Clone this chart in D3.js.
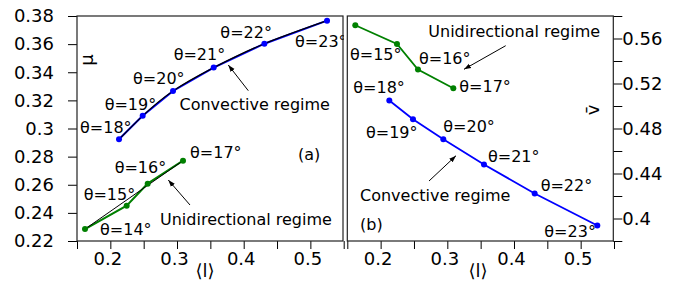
<!DOCTYPE html>
<html>
<head>
<meta charset="utf-8">
<script src="https://cdn.jsdelivr.net/npm/d3@7"></script>
<style>
  body { margin: 0; background: #fff; }
  svg text { font-family: "DejaVu Sans", sans-serif; fill: #000; }
</style>
</head>
<body>
<svg id="chart" width="683" height="281"></svg>
<script>
// data
var thetaConv = [18, 19, 20, 21, 22, 23];
var lConv = [0.213, 0.2485, 0.294, 0.355, 0.431, 0.525];
var muConv = [0.2923, 0.309, 0.3267, 0.3433, 0.3603, 0.3767];
var vConv = [0.5049, 0.4883, 0.4705, 0.448, 0.4222, 0.3938];

var thetaUni = [14, 15, 16, 17];
var lUni = [0.162, 0.2245, 0.256, 0.309];
var muUni = [0.2285, 0.2451, 0.2608, 0.2771];
var vUni = [0.5718, 0.5552, 0.5324, 0.5158];

var xMajor = [0.2, 0.3, 0.4, 0.5];
var xMinor = [0.15, 0.25, 0.35, 0.45, 0.55];
var muTicks = [0.22, 0.24, 0.26, 0.28, 0.3, 0.32, 0.34, 0.36, 0.38];
var vMajor = [0.4, 0.44, 0.48, 0.52, 0.56];
var vMinor = [0.38, 0.42, 0.46, 0.5, 0.54, 0.58];

var svg = d3.select("#chart");
var yTop = 16, yBot = 241;

var xa = d3.scaleLinear().domain([0.15, 0.55]).range([77, 343.7]);
var xb = d3.scaleLinear().domain([0.15, 0.55]).range([347.3, 614]);
var ymu = d3.scaleLinear().domain([0.22, 0.38]).range([yBot, yTop]);
var yv = d3.scaleLinear().domain([0.38, 0.58]).range([yBot, yTop]);

var blue = "#0000ff", green = "#008000";

svg.append("defs").append("marker")
  .attr("id", "arr").attr("viewBox", "0 0 10 10")
  .attr("refX", 10).attr("refY", 5)
  .attr("markerWidth", 7).attr("markerHeight", 7)
  .attr("markerUnits", "userSpaceOnUse")
  .attr("orient", "auto")
  .append("path").attr("d", "M0,1.5 L10,5 L0,8.5 Z").attr("fill", "#000");

svg.select("defs").append("clipPath").attr("id", "clipA")
  .append("rect").attr("x", 77).attr("y", yTop).attr("width", 344 - 77).attr("height", yBot - yTop);

function axes(x) {
  var g = svg.append("g").attr("transform", "translate(0," + yBot + ")");
  g.call(d3.axisBottom(x).tickValues(xMajor).tickSize(8).tickPadding(3).tickFormat(d => d))
    .call(a => a.select(".domain").remove());
  g.selectAll("text").attr("font-size", 18).attr("dx", -3).style("font-family", null);
  g.append("g").call(d3.axisBottom(x).tickValues(xMinor).tickSize(8).tickFormat(""))
    .call(a => a.select(".domain").remove());
  g.selectAll("line").attr("stroke", "#000");
}

function frame(x0, x1) {
  svg.append("rect").attr("x", x0).attr("y", yTop)
    .attr("width", x1 - x0).attr("height", yBot - yTop)
    .attr("fill", "none").attr("stroke", "#222").attr("stroke-width", 1.2);
}

// ---------- panel (a)
axes(xa);
var ga = svg.append("g").attr("transform", "translate(77,0)");
ga.call(d3.axisLeft(ymu).tickValues(muTicks).tickSize(9).tickPadding(14).tickFormat(d => d))
  .call(a => a.select(".domain").remove());
ga.selectAll("text").attr("font-size", 18).style("font-family", null);
ga.selectAll("line").attr("stroke", "#000");

var lineA = d3.line().x(d => xa(d[0])).y(d => ymu(d[1]));
var conv = lConv.map((v, i) => [v, muConv[i]]);
var uni = lUni.map((v, i) => [v, muUni[i]]);

svg.append("path").attr("d", lineA(conv)).attr("fill", "none").attr("stroke", blue).attr("stroke-width", 2);
svg.append("path").attr("d", lineA.curve(d3.curveNatural)(conv)).attr("fill", "none").attr("stroke", "#000").attr("stroke-width", 1.2);
lineA.curve(d3.curveLinear);
svg.append("path").attr("d", lineA(uni)).attr("fill", "none").attr("stroke", green).attr("stroke-width", 2);
svg.append("path").attr("d", lineA([uni[0], uni[uni.length - 1]])).attr("fill", "none").attr("stroke", "#000").attr("stroke-width", 1);

svg.selectAll(".da").data(conv).enter().append("circle")
  .attr("cx", d => xa(d[0])).attr("cy", d => ymu(d[1])).attr("r", 3).attr("fill", blue);
svg.selectAll(".dau").data(uni).enter().append("circle")
  .attr("cx", d => xa(d[0])).attr("cy", d => ymu(d[1])).attr("r", 3).attr("fill", green);

// label offsets (px) from each point
var offConvA = [[-39, -6], [-38, -6], [-40, -7], [-40, -8], [-44, -6], [-32, 26]];
var offUniA = [[15, 6], [-43, -6], [-33, -11], [7, -3]];
var labA = svg.append("g").attr("clip-path", "url(#clipA)").attr("font-size", 16);
conv.forEach((d, i) => labA.append("text")
  .attr("x", xa(d[0]) + offConvA[i][0]).attr("y", ymu(d[1]) + offConvA[i][1])
  .text("θ=" + thetaConv[i] + "°"));
uni.forEach((d, i) => labA.append("text")
  .attr("x", xa(d[0]) + offUniA[i][0]).attr("y", ymu(d[1]) + offUniA[i][1])
  .text("θ=" + thetaUni[i] + "°"));

labA.append("text").attr("x", 179.5).attr("y", 110).text("Convective regime");
labA.append("text").attr("x", 160).attr("y", 225).text("Unidirectional regime");
labA.append("text").attr("x", 298).attr("y", 160).text("(a)");

svg.append("line").attr("x1", 248.3).attr("y1", 90.7).attr("x2", 228.3).attr("y2", 65)
  .attr("stroke", "#000").attr("stroke-width", 1).attr("marker-end", "url(#arr)");
svg.append("line").attr("x1", 190).attr("y1", 205).attr("x2", 168.3).attr("y2", 180)
  .attr("stroke", "#000").attr("stroke-width", 1).attr("marker-end", "url(#arr)");

svg.append("text").attr("transform", "translate(93,60) rotate(-90)")
  .attr("text-anchor", "middle").attr("font-size", 18).text("μ");
svg.append("text").attr("x", 205).attr("y", 277).attr("text-anchor", "middle")
  .attr("font-size", 18).text("⟨l⟩");

frame(77, 343);

// ---------- panel (b)
axes(xb);
var gb = svg.append("g").attr("transform", "translate(613.3,0)");
gb.call(d3.axisRight(yv).tickValues(vMajor).tickSize(9).tickPadding(0).tickFormat(d => d))
  .call(a => a.select(".domain").remove());
gb.append("g").call(d3.axisRight(yv).tickValues(vMinor).tickSize(9).tickFormat(""))
  .call(a => a.select(".domain").remove());
gb.selectAll("text").attr("font-size", 18).style("font-family", null);
gb.selectAll("line").attr("stroke", "#000");

var lineB = d3.line().x(d => xb(d[0])).y(d => yv(d[1]));
var convB = lConv.map((v, i) => [v, vConv[i]]);
var uniB = lUni.map((v, i) => [v, vUni[i]]);

svg.append("path").attr("d", lineB(convB)).attr("fill", "none").attr("stroke", blue).attr("stroke-width", 1.8);
svg.append("path").attr("d", lineB(uniB)).attr("fill", "none").attr("stroke", green).attr("stroke-width", 1.8);
svg.selectAll(".db").data(convB).enter().append("circle")
  .attr("cx", d => xb(d[0])).attr("cy", d => yv(d[1])).attr("r", 3).attr("fill", blue);
svg.selectAll(".dbu").data(uniB).enter().append("circle")
  .attr("cx", d => xb(d[0])).attr("cy", d => yv(d[1])).attr("r", 3).attr("fill", green);

var offConvB = [[-36, -7], [-47, 19], [0, -7], [4, -3], [6, -3], [-53, 12]];
var offUniB = [null, [-47, 16], [1, -6], [6, 4]];
var labB = svg.append("g").attr("font-size", 16);
convB.forEach((d, i) => labB.append("text")
  .attr("x", xb(d[0]) + offConvB[i][0]).attr("y", yv(d[1]) + offConvB[i][1])
  .text("θ=" + thetaConv[i] + "°"));
uniB.forEach((d, i) => { if (offUniB[i]) labB.append("text")
  .attr("x", xb(d[0]) + offUniB[i][0]).attr("y", yv(d[1]) + offUniB[i][1])
  .text("θ=" + thetaUni[i] + "°"); });

labB.append("text").attr("x", 428.3).attr("y", 37.3).text("Unidirectional regime");
labB.append("text").attr("x", 360).attr("y", 200.7).text("Convective regime");
labB.append("text").attr("x", 360).attr("y", 230).text("(b)");

svg.append("line").attr("x1", 505.7).attr("y1", 45.7).attr("x2", 464).attr("y2", 69.3)
  .attr("stroke", "#000").attr("stroke-width", 1).attr("marker-end", "url(#arr)");
svg.append("line").attr("x1", 429).attr("y1", 181).attr("x2", 456).attr("y2", 155.7)
  .attr("stroke", "#000").attr("stroke-width", 1).attr("marker-end", "url(#arr)");

svg.append("text").attr("transform", "translate(599,110) rotate(-90)")
  .attr("text-anchor", "middle").attr("font-size", 18).text("v\u0304");
svg.append("text").attr("x", 478).attr("y", 277).attr("text-anchor", "middle")
  .attr("font-size", 18).text("⟨l⟩");

frame(347.3, 613.3);
</script>
</body>
</html>
